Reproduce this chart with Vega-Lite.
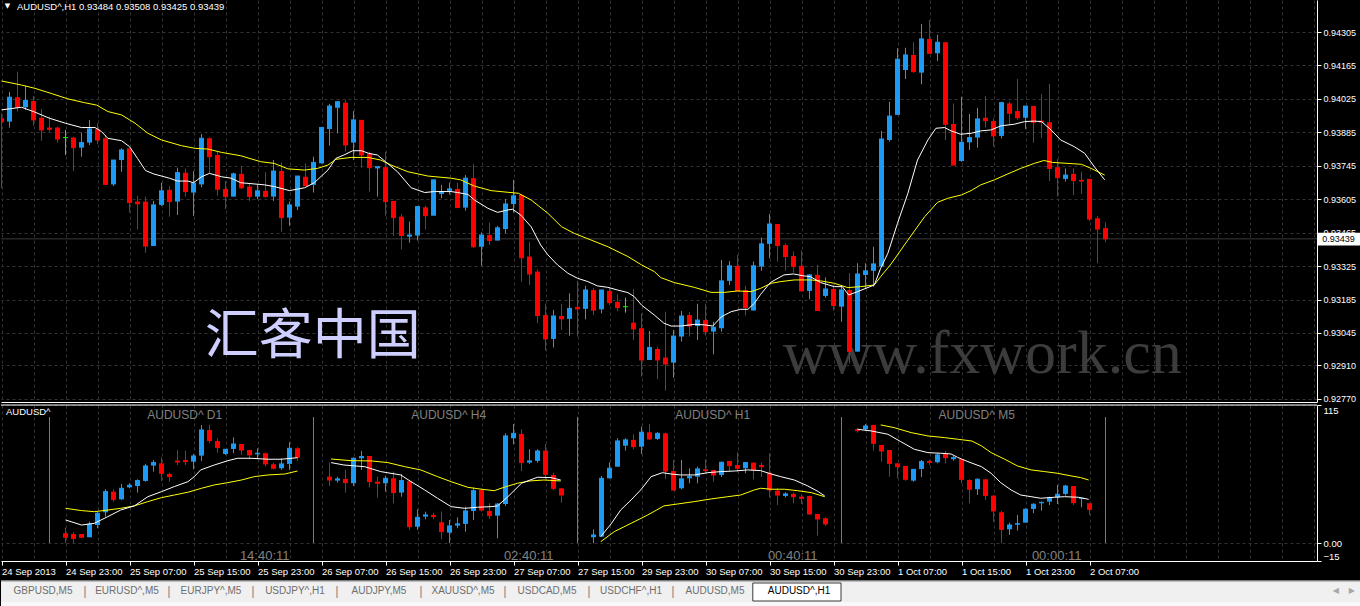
{
"$schema":"https://vega.github.io/schema/vega-lite/v6.json",
"background":"#000000",
"padding":0,
"spacing":3,
"bounds":"flush",
"center":false,
"config":{"view":{"stroke":null},"font":"Liberation Sans","scale":{"continuousPadding":0},"axis":{"labelFont":"Liberation Sans","labelOverlap":false,"labelSeparation":0},"text":{"font":"Liberation Sans"}},
"datasets":{
"one":[{}],
"main":[
{"i":0,"o":0.93944,"h":0.93965,"l":0.93651,"c":0.9393},{"i":1,"o":0.9393,"h":0.94055,"l":0.93905,"c":0.94032},{"i":2,"o":0.94032,"h":0.94139,"l":0.93972,"c":0.9399},{"i":3,"o":0.9399,"h":0.9408,"l":0.93979,"c":0.94018},{"i":4,"o":0.94016,"h":0.94037,"l":0.93912,"c":0.93937},{"i":5,"o":0.93946,"h":0.93983,"l":0.9385,"c":0.93895},{"i":6,"o":0.93905,"h":0.93951,"l":0.93888,"c":0.93898},{"i":7,"o":0.93905,"h":0.93909,"l":0.93842,"c":0.93857},{"i":8,"o":0.93863,"h":0.93895,"l":0.9379,"c":0.93863},{"i":9,"o":0.93863,"h":0.93867,"l":0.93723,"c":0.93821},
{"i":10,"o":0.93821,"h":0.93884,"l":0.93783,"c":0.93842},{"i":11,"o":0.93842,"h":0.93937,"l":0.93832,"c":0.93899},{"i":12,"o":0.93898,"h":0.93923,"l":0.93836,"c":0.93853},{"i":13,"o":0.9386,"h":0.93874,"l":0.93665,"c":0.93667},{"i":14,"o":0.93667,"h":0.93769,"l":0.9366,"c":0.93769},{"i":15,"o":0.93769,"h":0.93818,"l":0.9372,"c":0.93811},{"i":16,"o":0.93818,"h":0.93818,"l":0.93549,"c":0.93591},{"i":17,"o":0.93595,"h":0.93619,"l":0.93479,"c":0.93586},{"i":18,"o":0.93595,"h":0.93616,"l":0.93381,"c":0.93409},{"i":19,"o":0.93409,"h":0.93598,"l":0.93409,"c":0.93581},
{"i":20,"o":0.93581,"h":0.93674,"l":0.93577,"c":0.9364},{"i":21,"o":0.93644,"h":0.9366,"l":0.93532,"c":0.93595},{"i":22,"o":0.93595,"h":0.93737,"l":0.93539,"c":0.93716},{"i":23,"o":0.93716,"h":0.93734,"l":0.93616,"c":0.93637},{"i":24,"o":0.93633,"h":0.93723,"l":0.93535,"c":0.93672},{"i":25,"o":0.93667,"h":0.93878,"l":0.93655,"c":0.9386},{"i":26,"o":0.9386,"h":0.93864,"l":0.93713,"c":0.93783},{"i":27,"o":0.9379,"h":0.93804,"l":0.93619,"c":0.93647},{"i":28,"o":0.93648,"h":0.93681,"l":0.93564,"c":0.93616},{"i":29,"o":0.93616,"h":0.93716,"l":0.93616,"c":0.93711},
{"i":30,"o":0.93711,"h":0.93744,"l":0.93648,"c":0.93653},{"i":31,"o":0.93658,"h":0.93672,"l":0.93598,"c":0.93616},{"i":32,"o":0.93616,"h":0.93667,"l":0.93605,"c":0.9364},{"i":33,"o":0.9364,"h":0.93718,"l":0.93612,"c":0.93616},{"i":34,"o":0.93616,"h":0.93769,"l":0.93598,"c":0.93723},{"i":35,"o":0.93723,"h":0.93759,"l":0.93469,"c":0.93528},{"i":36,"o":0.93528,"h":0.93595,"l":0.93494,"c":0.93581},{"i":37,"o":0.93574,"h":0.93702,"l":0.9356,"c":0.93702},{"i":38,"o":0.93699,"h":0.93755,"l":0.93662,"c":0.93662},{"i":39,"o":0.93665,"h":0.93783,"l":0.93633,"c":0.93759},
{"i":40,"o":0.93755,"h":0.93905,"l":0.93755,"c":0.93905},{"i":41,"o":0.93899,"h":0.94004,"l":0.93829,"c":0.93995},{"i":42,"o":0.93988,"h":0.94016,"l":0.93881,"c":0.94013},{"i":43,"o":0.94009,"h":0.9402,"l":0.93804,"c":0.93832},{"i":44,"o":0.93842,"h":0.93974,"l":0.93769,"c":0.93937},{"i":45,"o":0.93937,"h":0.93937,"l":0.93737,"c":0.9379},{"i":46,"o":0.93797,"h":0.93804,"l":0.93637,"c":0.93737},{"i":47,"o":0.93734,"h":0.93741,"l":0.93616,"c":0.93741},{"i":48,"o":0.93739,"h":0.93804,"l":0.93536,"c":0.93595},{"i":49,"o":0.93598,"h":0.93598,"l":0.93451,"c":0.93528},
{"i":50,"o":0.93532,"h":0.93543,"l":0.93395,"c":0.93453},{"i":51,"o":0.93448,"h":0.93511,"l":0.93423,"c":0.93455},{"i":52,"o":0.93453,"h":0.93577,"l":0.93432,"c":0.93574},{"i":53,"o":0.93571,"h":0.93578,"l":0.93479,"c":0.93536},{"i":54,"o":0.93536,"h":0.93686,"l":0.93536,"c":0.93686},{"i":55,"o":0.93627,"h":0.93665,"l":0.93609,"c":0.93637},{"i":56,"o":0.9364,"h":0.93674,"l":0.93625,"c":0.93648},{"i":57,"o":0.93648,"h":0.93674,"l":0.9357,"c":0.9357},{"i":58,"o":0.9357,"h":0.93706,"l":0.93557,"c":0.93693},{"i":59,"o":0.93693,"h":0.93752,"l":0.93402,"c":0.93406},
{"i":60,"o":0.93406,"h":0.93466,"l":0.93327,"c":0.93455},{"i":61,"o":0.93455,"h":0.93507,"l":0.93413,"c":0.93432},{"i":62,"o":0.93432,"h":0.93493,"l":0.93432,"c":0.93485},{"i":63,"o":0.9348,"h":0.93606,"l":0.93462,"c":0.93585},{"i":64,"o":0.93585,"h":0.93686,"l":0.93549,"c":0.93619},{"i":65,"o":0.93623,"h":0.93627,"l":0.9326,"c":0.9336},{"i":66,"o":0.93365,"h":0.93427,"l":0.93246,"c":0.93292},{"i":67,"o":0.93302,"h":0.93312,"l":0.93086,"c":0.93118},{"i":68,"o":0.9312,"h":0.93167,"l":0.92971,"c":0.9302},{"i":69,"o":0.9302,"h":0.93141,"l":0.92984,"c":0.93116},
{"i":70,"o":0.93116,"h":0.93167,"l":0.93058,"c":0.93104},{"i":71,"o":0.93104,"h":0.93211,"l":0.93034,"c":0.93148},{"i":72,"o":0.93154,"h":0.93263,"l":0.9303,"c":0.93146},{"i":73,"o":0.93146,"h":0.93242,"l":0.93102,"c":0.93225},{"i":74,"o":0.93225,"h":0.93232,"l":0.9312,"c":0.93141},{"i":75,"o":0.93144,"h":0.93225,"l":0.93127,"c":0.93225},{"i":76,"o":0.93221,"h":0.93236,"l":0.93162,"c":0.93172},{"i":77,"o":0.93175,"h":0.93207,"l":0.93137,"c":0.93151},{"i":78,"o":0.93155,"h":0.93193,"l":0.9313,"c":0.93155},{"i":79,"o":0.93088,"h":0.93229,"l":0.93016,"c":0.93062},
{"i":80,"o":0.93065,"h":0.93127,"l":0.92862,"c":0.92932},{"i":81,"o":0.92932,"h":0.93053,"l":0.92932,"c":0.92984},{"i":82,"o":0.92978,"h":0.92988,"l":0.92852,"c":0.92932},{"i":83,"o":0.92942,"h":0.93134,"l":0.92804,"c":0.92915},{"i":84,"o":0.92921,"h":0.93058,"l":0.92858,"c":0.93032},{"i":85,"o":0.9303,"h":0.93137,"l":0.93009,"c":0.93116},{"i":86,"o":0.9312,"h":0.93132,"l":0.9303,"c":0.93074},{"i":87,"o":0.93074,"h":0.93167,"l":0.93016,"c":0.93099},{"i":88,"o":0.93099,"h":0.93167,"l":0.93034,"c":0.93051},{"i":89,"o":0.93051,"h":0.93092,"l":0.92956,"c":0.93069},
{"i":90,"o":0.93065,"h":0.93351,"l":0.93051,"c":0.93263},{"i":91,"o":0.93263,"h":0.93346,"l":0.93246,"c":0.93326},{"i":92,"o":0.93326,"h":0.93372,"l":0.93221,"c":0.93221},{"i":93,"o":0.93225,"h":0.93243,"l":0.93118,"c":0.93152},{"i":94,"o":0.93139,"h":0.93344,"l":0.93139,"c":0.93326},{"i":95,"o":0.93323,"h":0.93444,"l":0.93305,"c":0.93418},{"i":96,"o":0.93418,"h":0.93543,"l":0.93358,"c":0.93501},{"i":97,"o":0.93501,"h":0.93501,"l":0.93344,"c":0.93411},{"i":98,"o":0.93413,"h":0.9342,"l":0.93306,"c":0.93365},{"i":99,"o":0.93367,"h":0.93386,"l":0.93298,"c":0.93323},
{"i":100,"o":0.93326,"h":0.9339,"l":0.93221,"c":0.93221},{"i":101,"o":0.93221,"h":0.93292,"l":0.93186,"c":0.93288},{"i":102,"o":0.93288,"h":0.9333,"l":0.93139,"c":0.93139},{"i":103,"o":0.932,"h":0.93278,"l":0.93193,"c":0.93229},{"i":104,"o":0.93229,"h":0.93246,"l":0.93139,"c":0.9316},{"i":105,"o":0.93155,"h":0.93239,"l":0.93092,"c":0.93225},{"i":106,"o":0.93225,"h":0.93295,"l":0.92918,"c":0.92967},{"i":107,"o":0.92967,"h":0.93337,"l":0.92967,"c":0.93292},{"i":108,"o":0.93288,"h":0.93337,"l":0.93232,"c":0.93305},{"i":109,"o":0.93305,"h":0.93406,"l":0.93239,"c":0.93334},
{"i":110,"o":0.93323,"h":0.93891,"l":0.93323,"c":0.93857},{"i":111,"o":0.93853,"h":0.94013,"l":0.93846,"c":0.93953},{"i":112,"o":0.93958,"h":0.94237,"l":0.93958,"c":0.94191},{"i":113,"o":0.94146,"h":0.94239,"l":0.94108,"c":0.94209},{"i":114,"o":0.94209,"h":0.94262,"l":0.94135,"c":0.94139},{"i":115,"o":0.94135,"h":0.94339,"l":0.94086,"c":0.94276},{"i":116,"o":0.94276,"h":0.94355,"l":0.94213,"c":0.94216},{"i":117,"o":0.94216,"h":0.94293,"l":0.94184,"c":0.94262},{"i":118,"o":0.94262,"h":0.94262,"l":0.93853,"c":0.93919},{"i":119,"o":0.9392,"h":0.94006,"l":0.93746,"c":0.93748},
{"i":120,"o":0.93765,"h":0.94034,"l":0.93762,"c":0.93843},{"i":121,"o":0.93843,"h":0.93962,"l":0.93811,"c":0.93863},{"i":122,"o":0.93863,"h":0.93988,"l":0.93821,"c":0.93941},{"i":123,"o":0.93946,"h":0.94037,"l":0.93905,"c":0.93934},{"i":124,"o":0.93932,"h":0.93944,"l":0.93825,"c":0.9387},{"i":125,"o":0.9387,"h":0.94013,"l":0.9386,"c":0.94009},{"i":126,"o":0.94006,"h":0.94013,"l":0.93916,"c":0.93965},{"i":127,"o":0.93974,"h":0.94108,"l":0.93937,"c":0.93946},{"i":128,"o":0.93946,"h":0.93995,"l":0.93899,"c":0.93995},{"i":129,"o":0.93995,"h":0.93995,"l":0.93842,"c":0.93927},
{"i":130,"o":0.93934,"h":0.94045,"l":0.9386,"c":0.93928},{"i":131,"o":0.93927,"h":0.94087,"l":0.93681,"c":0.93734},{"i":132,"o":0.93739,"h":0.93773,"l":0.93616,"c":0.93695},{"i":133,"o":0.9369,"h":0.93734,"l":0.93679,"c":0.93706},{"i":134,"o":0.93711,"h":0.93734,"l":0.93623,"c":0.93683},{"i":135,"o":0.93686,"h":0.9372,"l":0.93627,"c":0.93681},{"i":136,"o":0.9369,"h":0.9369,"l":0.93514,"c":0.93522},{"i":137,"o":0.93525,"h":0.93535,"l":0.93337,"c":0.9348},{"i":138,"o":0.93484,"h":0.93508,"l":0.93425,"c":0.93439}
],
"mw":[
{"i":0,"p":0.93979},{"i":2.5,"p":0.9399},{"i":4,"p":0.93972},{"i":6,"p":0.93944},{"i":8,"p":0.93923},{"i":10,"p":0.93905},{"i":11.7,"p":0.93905},{"i":12.5,"p":0.93888},{"i":13.3,"p":0.9386},{"i":15,"p":0.9385},{"i":16,"p":0.93825},{"i":17,"p":0.93776},{"i":18,"p":0.93725},{"i":19,"p":0.93711},{"i":21,"p":0.93693},{"i":22,"p":0.93681},{"i":23.3,"p":0.93681},{"i":24,"p":0.93674},{"i":25,"p":0.93699},{"i":26,"p":0.93713},{"i":27.5,"p":0.93699},{"i":28.7,"p":0.93693},{"i":29.9,"p":0.93674},{"i":32.9,"p":0.93665},{"i":34.1,"p":0.93658},{"i":36,"p":0.93641},{"i":37.9,"p":0.93653},{"i":39.1,"p":0.93674},{"i":40.8,"p":0.93727},{"i":41.8,"p":0.93776},{"i":42.8,"p":0.9379},{"i":43.9,"p":0.93808},{"i":45,"p":0.93808},{"i":45.9,"p":0.93797},{"i":47,"p":0.9379},{"i":48,"p":0.93762},{"i":49.5,"p":0.9372},{"i":51.2,"p":0.93653},{"i":52.9,"p":0.93633},{"i":54.1,"p":0.93637},{"i":56.2,"p":0.93637},{"i":57,"p":0.93633},{"i":58.3,"p":0.93625},{"i":59.1,"p":0.93602},{"i":60.8,"p":0.93567},{"i":62,"p":0.9355},{"i":63.3,"p":0.9356},{"i":63.9,"p":0.93563},{"i":64.9,"p":0.93539},{"i":66.2,"p":0.9349},{"i":67.4,"p":0.93413},{"i":68.3,"p":0.93372},{"i":69.5,"p":0.9333},{"i":70.8,"p":0.93295},{"i":72,"p":0.93274},{"i":73.3,"p":0.9326},{"i":74.5,"p":0.93242},{"i":75.8,"p":0.93236},{"i":77,"p":0.93225},{"i":78.3,"p":0.93214},{"i":79.1,"p":0.93197},{"i":80,"p":0.93162},{"i":81.6,"p":0.9312},{"i":82.8,"p":0.93086},{"i":83.7,"p":0.93074},{"i":84.9,"p":0.93074},{"i":86.6,"p":0.93081},{"i":87.9,"p":0.93079},{"i":88.9,"p":0.93074},{"i":90,"p":0.93113},{"i":91.2,"p":0.93134},{"i":92.4,"p":0.93144},{"i":93.3,"p":0.93144},{"i":94.1,"p":0.93169},{"i":94.9,"p":0.93207},{"i":96.1,"p":0.93256},{"i":97.8,"p":0.93288},{"i":99,"p":0.93292},{"i":100.3,"p":0.93284},{"i":101.1,"p":0.93281},{"i":102.4,"p":0.93256},{"i":104.1,"p":0.93239},{"i":105.1,"p":0.93239},{"i":105.9,"p":0.93204},{"i":107,"p":0.93218},{"i":109.1,"p":0.93246},{"i":109.9,"p":0.93316},{"i":110.8,"p":0.93379},{"i":112,"p":0.93504},{"i":113.3,"p":0.9363},{"i":114.5,"p":0.93769},{"i":115.8,"p":0.93853},{"i":116.8,"p":0.93902},{"i":117.9,"p":0.93905},{"i":118.7,"p":0.93891},{"i":119.9,"p":0.93877},{"i":121.2,"p":0.93881},{"i":122.4,"p":0.93891},{"i":123.7,"p":0.93895},{"i":124.9,"p":0.93912},{"i":126.6,"p":0.93919},{"i":127.9,"p":0.9393},{"i":129.1,"p":0.93932},{"i":130,"p":0.9393},{"i":131.2,"p":0.93895},{"i":132.4,"p":0.93853},{"i":134.1,"p":0.93825},{"i":135.4,"p":0.93797},{"i":136.6,"p":0.93741},{"i":137.9,"p":0.93686}
],
"my":[
{"i":0,"p":0.941},{"i":2.5,"p":0.94083},{"i":4.2,"p":0.94069},{"i":6.2,"p":0.94048},{"i":8.3,"p":0.94025},{"i":10.4,"p":0.94009},{"i":11.9,"p":0.93999},{"i":13.3,"p":0.93972},{"i":15,"p":0.93958},{"i":16.7,"p":0.93923},{"i":18.3,"p":0.93881},{"i":20,"p":0.93853},{"i":22.5,"p":0.93829},{"i":24.2,"p":0.93818},{"i":25.8,"p":0.93815},{"i":27.5,"p":0.93801},{"i":29.9,"p":0.93787},{"i":32.4,"p":0.93762},{"i":34.1,"p":0.93755},{"i":35.8,"p":0.93732},{"i":37.9,"p":0.93727},{"i":39.5,"p":0.93734},{"i":40.8,"p":0.93748},{"i":41.8,"p":0.93772},{"i":43.7,"p":0.9378},{"i":45.8,"p":0.9378},{"i":47.4,"p":0.93769},{"i":48.7,"p":0.93748},{"i":50.8,"p":0.9372},{"i":53.3,"p":0.93702},{"i":56.2,"p":0.93693},{"i":57.4,"p":0.93686},{"i":59.1,"p":0.9366},{"i":61.2,"p":0.93641},{"i":63.3,"p":0.93634},{"i":64.6,"p":0.9363},{"i":66.2,"p":0.93602},{"i":68.3,"p":0.93546},{"i":70,"p":0.9349},{"i":71.6,"p":0.93462},{"i":73.7,"p":0.93434},{"i":75.8,"p":0.93406},{"i":78.3,"p":0.93365},{"i":80,"p":0.9333},{"i":81.6,"p":0.93302},{"i":82.4,"p":0.93277},{"i":84.1,"p":0.93256},{"i":86.6,"p":0.93236},{"i":88.7,"p":0.93215},{"i":90.4,"p":0.93215},{"i":92,"p":0.93221},{"i":93.7,"p":0.93218},{"i":94.9,"p":0.93232},{"i":96.2,"p":0.93253},{"i":97.4,"p":0.9326},{"i":99.1,"p":0.93267},{"i":101.2,"p":0.93267},{"i":102.4,"p":0.93263},{"i":104.1,"p":0.93253},{"i":105.8,"p":0.93235},{"i":107.4,"p":0.93239},{"i":109.1,"p":0.93246},{"i":109.9,"p":0.93281},{"i":111.2,"p":0.93334},{"i":113.3,"p":0.93434},{"i":115.4,"p":0.93532},{"i":117,"p":0.93592},{"i":118.3,"p":0.93609},{"i":120,"p":0.93623},{"i":121.2,"p":0.93641},{"i":122.4,"p":0.93665},{"i":124.1,"p":0.93686},{"i":125.8,"p":0.93711},{"i":127.4,"p":0.93734},{"i":129.1,"p":0.93755},{"i":130.3,"p":0.93767},{"i":131.4,"p":0.93759},{"i":133.3,"p":0.93755},{"i":135,"p":0.93751},{"i":136.2,"p":0.93734},{"i":137.9,"p":0.93706}
],
"sub":[
{"i":8,"o":8.1,"h":12.8,"l":-0.2,"c":4.8},{"i":9,"o":7.5,"h":9.2,"l":-0.2,"c":3.9},{"i":10,"o":7.5,"h":7.5,"l":3.9,"c":4.8},{"i":11,"o":4.8,"h":17.8,"l":4.8,"c":15.6},{"i":12,"o":15.0,"h":26.1,"l":12.3,"c":24.8},{"i":13,"o":25.6,"h":44.8,"l":22.0,"c":42.8},{"i":14,"o":42.8,"h":44.8,"l":34.5,"c":36.4},{"i":15,"o":36.4,"h":49.2,"l":35.9,"c":45.6},{"i":16,"o":46.4,"h":49.8,"l":45.6,"c":48.1},{"i":17,"o":47.5,"h":53.1,"l":42.0,"c":52.0},{"i":18,"o":51.7,"h":65.9,"l":51.1,"c":64.2},{"i":19,"o":64.5,"h":69.2,"l":59.5,"c":67.0},{"i":20,"o":66.4,"h":71.4,"l":51.7,"c":58.1},{"i":21,"o":57.5,"h":58.6,"l":51.1,"c":55.3},{"i":22,"o":68.6,"h":77.5,"l":65.0,"c":67.5},{"i":23,"o":69.2,"h":77.0,"l":65.0,"c":67.8},{"i":24,"o":67.8,"h":74.2,"l":61.4,"c":72.5},{"i":25,"o":72.8,"h":98.4,"l":68.4,"c":94.2},{"i":26,"o":94.2,"h":98.4,"l":83.1,"c":85.3},{"i":27,"o":85.0,"h":87.3,"l":75.3,"c":79.5},{"i":28,"o":74.2,"h":78.1,"l":73.4,"c":78.1},{"i":29,"o":78.4,"h":88.1,"l":74.8,"c":82.5},{"i":30,"o":82.5,"h":82.5,"l":73.4,"c":77.5},{"i":31,"o":77.5,"h":77.5,"l":69.8,"c":73.4},{"i":32,"o":73.9,"h":78.9,"l":69.8,"c":74.8},{"i":33,"o":74.8,"h":75.3,"l":63.6,"c":65.9},{"i":34,"o":65.6,"h":67.0,"l":61.4,"c":62.3},{"i":35,"o":62.3,"h":70.6,"l":60.9,"c":65.9},{"i":36,"o":65.9,"h":83.9,"l":60.9,"c":78.9},{"i":37,"o":78.9,"h":79.8,"l":68.4,"c":71.4},
{"i":41,"o":55.3,"h":67.0,"l":47.5,"c":52.5},{"i":42,"o":52.0,"h":55.3,"l":50.3,"c":53.4},{"i":43,"o":53.4,"h":60.9,"l":42.0,"c":50.3},{"i":44,"o":49.8,"h":71.4,"l":47.5,"c":70.6},{"i":45,"o":70.6,"h":76.7,"l":60.9,"c":72.0},{"i":46,"o":72.5,"h":72.5,"l":46.4,"c":51.1},{"i":47,"o":51.1,"h":55.3,"l":37.8,"c":49.8},{"i":48,"o":49.8,"h":56.1,"l":42.8,"c":53.9},{"i":49,"o":53.9,"h":59.5,"l":33.1,"c":42.0},{"i":50,"o":42.0,"h":57.5,"l":38.6,"c":52.0},{"i":51,"o":51.7,"h":52.5,"l":10.9,"c":13.6},{"i":52,"o":13.6,"h":28.1,"l":10.9,"c":21.4},{"i":53,"o":22.0,"h":26.1,"l":19.8,"c":23.4},{"i":54,"o":23.4,"h":25.3,"l":19.8,"c":22.0},{"i":55,"o":17.3,"h":26.1,"l":3.1,"c":9.5},{"i":56,"o":8.6,"h":19.2,"l":-0.2,"c":14.2},{"i":57,"o":14.5,"h":21.4,"l":12.3,"c":15.9},{"i":58,"o":15.9,"h":30.3,"l":9.5,"c":26.7},{"i":59,"o":26.7,"h":46.4,"l":19.2,"c":43.6},{"i":60,"o":44.2,"h":45.6,"l":26.1,"c":27.5},{"i":61,"o":26.7,"h":33.1,"l":20.0,"c":22.8},{"i":62,"o":22.8,"h":33.1,"l":3.9,"c":32.5},{"i":63,"o":32.5,"h":91.4,"l":30.9,"c":89.2},{"i":64,"o":87.3,"h":99.2,"l":82.3,"c":91.4},{"i":65,"o":90.9,"h":94.8,"l":60.0,"c":67.0},{"i":66,"o":67.0,"h":78.1,"l":65.9,"c":68.4},{"i":67,"o":68.4,"h":78.1,"l":67.0,"c":76.7},{"i":68,"o":77.0,"h":82.5,"l":53.1,"c":57.3},{"i":69,"o":56.7,"h":58.6,"l":44.2,"c":45.6},{"i":70,"o":45.6,"h":45.6,"l":33.6,"c":40.0},
{"i":74,"o":4.8,"h":11.4,"l":-0.2,"c":6.7},{"i":75,"o":5.3,"h":55.9,"l":5.3,"c":53.9},{"i":76,"o":53.9,"h":67.3,"l":53.9,"c":62.3},{"i":77,"o":63.6,"h":87.3,"l":63.6,"c":85.0},{"i":78,"o":81.1,"h":87.3,"l":77.0,"c":85.9},{"i":79,"o":85.9,"h":90.6,"l":78.1,"c":80.3},{"i":80,"o":80.3,"h":97.0,"l":74.2,"c":92.3},{"i":81,"o":92.3,"h":99.2,"l":85.9,"c":86.7},{"i":82,"o":86.7,"h":92.3,"l":85.9,"c":91.4},{"i":83,"o":91.4,"h":92.0,"l":53.4,"c":60.0},{"i":84,"o":60.0,"h":69.2,"l":43.6,"c":44.2},{"i":85,"o":45.6,"h":69.2,"l":44.8,"c":53.4},{"i":86,"o":53.9,"h":62.3,"l":49.8,"c":55.3},{"i":87,"o":55.3,"h":63.6,"l":49.8,"c":61.7},{"i":88,"o":61.4,"h":69.8,"l":58.6,"c":60.3},{"i":89,"o":60.9,"h":60.9,"l":51.1,"c":56.7},{"i":90,"o":56.7,"h":67.8,"l":55.0,"c":67.3},{"i":91,"o":68.4,"h":68.4,"l":59.5,"c":64.5},{"i":92,"o":65.0,"h":75.6,"l":58.9,"c":62.3},{"i":93,"o":62.3,"h":67.0,"l":58.1,"c":67.0},{"i":94,"o":67.0,"h":67.0,"l":53.1,"c":60.9},{"i":95,"o":65.0,"h":67.0,"l":55.0,"c":63.6},{"i":96,"o":58.6,"h":74.8,"l":38.1,"c":44.2},{"i":97,"o":43.6,"h":45.6,"l":31.7,"c":40.0},{"i":98,"o":39.2,"h":42.3,"l":38.1,"c":40.9},{"i":99,"o":40.9,"h":42.0,"l":33.1,"c":38.6},{"i":100,"o":38.6,"h":40.6,"l":32.5,"c":37.3},{"i":101,"o":39.2,"h":39.2,"l":23.4,"c":24.2},{"i":102,"o":24.2,"h":24.2,"l":6.1,"c":20.0},{"i":103,"o":20.6,"h":21.4,"l":14.2,"c":15.9},
{"i":107,"o":94.8,"h":95.6,"l":92.0,"c":93.6},{"i":108,"o":94.8,"h":99.2,"l":93.6,"c":97.5},{"i":109,"o":98.4,"h":98.4,"l":77.0,"c":83.1},{"i":110,"o":81.7,"h":81.7,"l":67.8,"c":76.7},{"i":111,"o":77.5,"h":77.5,"l":55.3,"c":66.4},{"i":112,"o":66.4,"h":66.4,"l":53.9,"c":63.6},{"i":113,"o":64.2,"h":64.2,"l":52.0,"c":53.1},{"i":114,"o":52.0,"h":61.4,"l":51.1,"c":61.4},{"i":115,"o":61.7,"h":69.2,"l":55.0,"c":67.8},{"i":116,"o":68.4,"h":69.2,"l":65.0,"c":67.3},{"i":117,"o":67.3,"h":74.8,"l":66.4,"c":73.4},{"i":118,"o":74.8,"h":76.7,"l":66.4,"c":71.1},{"i":119,"o":69.8,"h":72.5,"l":68.6,"c":71.1},{"i":120,"o":70.0,"h":70.0,"l":49.8,"c":53.1},{"i":121,"o":52.5,"h":53.1,"l":33.1,"c":44.8},{"i":122,"o":44.8,"h":53.9,"l":40.0,"c":53.1},{"i":123,"o":53.1,"h":53.1,"l":35.9,"c":39.5},{"i":124,"o":39.5,"h":39.5,"l":17.8,"c":26.7},{"i":125,"o":25.6,"h":26.7,"l":-0.2,"c":11.4},{"i":126,"o":11.4,"h":17.0,"l":6.7,"c":15.0},{"i":127,"o":15.3,"h":23.4,"l":10.3,"c":16.1},{"i":128,"o":17.0,"h":28.9,"l":17.0,"c":28.1},{"i":129,"o":28.4,"h":33.1,"l":24.8,"c":32.3},{"i":130,"o":33.1,"h":34.5,"l":27.0,"c":33.9},{"i":131,"o":34.5,"h":38.6,"l":31.7,"c":37.8},{"i":132,"o":38.1,"h":48.4,"l":32.5,"c":40.6},{"i":133,"o":40.9,"h":48.4,"l":39.5,"c":47.5},{"i":134,"o":47.5,"h":47.5,"l":31.7,"c":33.6},{"i":135,"o":36.7,"h":37.3,"l":29.8,"c":37.3},{"i":136,"o":33.1,"h":33.1,"l":23.4,"c":28.1}
],
"sw":[
{"g":"D1","i":8,"v":19.2},{"g":"D1","i":10,"v":15.0},{"g":"D1","i":11.6,"v":16.4},{"g":"D1","i":13.3,"v":22.0},{"g":"D1","i":14.9,"v":27.5},{"g":"D1","i":16.6,"v":30.9},{"g":"D1","i":18.3,"v":38.6},{"g":"D1","i":20,"v":42.8},{"g":"D1","i":21.6,"v":47.0},{"g":"D1","i":23.3,"v":51.1},{"g":"D1","i":24.1,"v":55.3},{"g":"D1","i":24.9,"v":60.9},{"g":"D1","i":26.6,"v":65.0},{"g":"D1","i":28.3,"v":68.6},{"g":"D1","i":29.5,"v":70.6},{"g":"D1","i":31.2,"v":70.6},{"g":"D1","i":33.3,"v":69.8},{"g":"D1","i":35,"v":69.8},{"g":"D1","i":37,"v":71.1},
{"g":"H4","i":41.2,"v":67.0},{"g":"H4","i":42.8,"v":65.0},{"g":"H4","i":45.4,"v":63.6},{"g":"H4","i":47.4,"v":59.5},{"g":"H4","i":49.9,"v":56.7},{"g":"H4","i":51.2,"v":51.1},{"g":"H4","i":52.9,"v":44.2},{"g":"H4","i":54.5,"v":37.3},{"g":"H4","i":56.2,"v":30.3},{"g":"H4","i":57.9,"v":28.9},{"g":"H4","i":59.5,"v":29.8},{"g":"H4","i":61.2,"v":30.3},{"g":"H4","i":62,"v":30.9},{"g":"H4","i":63.3,"v":38.6},{"g":"H4","i":65,"v":49.8},{"g":"H4","i":67,"v":54.8},{"g":"H4","i":68.7,"v":54.5},{"g":"H4","i":69.9,"v":52.5},
{"g":"H1","i":74.9,"v":5.3},{"g":"H1","i":76.2,"v":15.9},{"g":"H1","i":77.4,"v":27.5},{"g":"H1","i":78.7,"v":35.9},{"g":"H1","i":79.9,"v":44.2},{"g":"H1","i":81.2,"v":55.3},{"g":"H1","i":82.6,"v":58.6},{"g":"H1","i":83.7,"v":57.5},{"g":"H1","i":84.9,"v":56.7},{"g":"H1","i":86.6,"v":56.7},{"g":"H1","i":88.3,"v":58.6},{"g":"H1","i":89.9,"v":59.5},{"g":"H1","i":91.6,"v":60.0},{"g":"H1","i":93.3,"v":60.9},{"g":"H1","i":94.9,"v":60.3},{"g":"H1","i":96.2,"v":57.5},{"g":"H1","i":97.4,"v":55.3},{"g":"H1","i":99.1,"v":52.5},{"g":"H1","i":100.8,"v":47.5},{"g":"H1","i":102.1,"v":42.8},{"g":"H1","i":102.9,"v":39.2},
{"g":"M5","i":107,"v":94.8},{"g":"M5","i":108.7,"v":93.4},{"g":"M5","i":110.8,"v":90.6},{"g":"M5","i":112.4,"v":84.5},{"g":"M5","i":114.1,"v":78.1},{"g":"M5","i":115.8,"v":75.3},{"g":"M5","i":117.4,"v":74.8},{"g":"M5","i":118.7,"v":74.2},{"g":"M5","i":119.5,"v":71.4},{"g":"M5","i":120.8,"v":67.8},{"g":"M5","i":122.5,"v":63.6},{"g":"M5","i":123.7,"v":58.1},{"g":"M5","i":124.9,"v":50.3},{"g":"M5","i":126.2,"v":44.2},{"g":"M5","i":127.4,"v":40.0},{"g":"M5","i":128.7,"v":38.6},{"g":"M5","i":129.9,"v":37.3},{"g":"M5","i":131.6,"v":38.1},{"g":"M5","i":132.9,"v":38.6},{"g":"M5","i":134.6,"v":38.1},{"g":"M5","i":135.9,"v":36.4}
],
"sy":[
{"g":"D1","i":8,"v":28.9},{"g":"D1","i":10,"v":27.0},{"g":"D1","i":11.6,"v":26.1},{"g":"D1","i":13.3,"v":27.5},{"g":"D1","i":14.9,"v":28.9},{"g":"D1","i":16.6,"v":30.9},{"g":"D1","i":18.3,"v":34.5},{"g":"D1","i":20,"v":37.8},{"g":"D1","i":21.6,"v":40.0},{"g":"D1","i":23.3,"v":42.3},{"g":"D1","i":25,"v":45.6},{"g":"D1","i":26.6,"v":48.4},{"g":"D1","i":28.3,"v":50.3},{"g":"D1","i":30,"v":52.5},{"g":"D1","i":31.6,"v":55.3},{"g":"D1","i":33.3,"v":56.7},{"g":"D1","i":35.4,"v":57.5},{"g":"D1","i":37,"v":60.0},
{"g":"H4","i":41.2,"v":70.0},{"g":"H4","i":43.7,"v":68.6},{"g":"H4","i":46.2,"v":68.4},{"g":"H4","i":48.3,"v":67.0},{"g":"H4","i":50.4,"v":63.6},{"g":"H4","i":52.4,"v":60.9},{"g":"H4","i":54.5,"v":55.3},{"g":"H4","i":56.2,"v":51.1},{"g":"H4","i":58.3,"v":46.4},{"g":"H4","i":60,"v":44.8},{"g":"H4","i":61.6,"v":43.6},{"g":"H4","i":62.8,"v":46.4},{"g":"H4","i":64.5,"v":49.8},{"g":"H4","i":66,"v":51.7},{"g":"H4","i":67.8,"v":52.5},{"g":"H4","i":69.9,"v":51.7},
{"g":"H1","i":74.9,"v":1.1},{"g":"H1","i":76.6,"v":9.5},{"g":"H1","i":78.7,"v":16.4},{"g":"H1","i":80.8,"v":23.4},{"g":"H1","i":82.8,"v":30.9},{"g":"H1","i":84.5,"v":32.5},{"g":"H1","i":86.6,"v":34.5},{"g":"H1","i":88.7,"v":36.7},{"g":"H1","i":90.8,"v":38.6},{"g":"H1","i":92.4,"v":40.0},{"g":"H1","i":94.1,"v":44.2},{"g":"H1","i":94.9,"v":45.6},{"g":"H1","i":96.2,"v":44.8},{"g":"H1","i":97.9,"v":44.8},{"g":"H1","i":99.5,"v":43.6},{"g":"H1","i":101.2,"v":42.0},{"g":"H1","i":102.9,"v":38.6},
{"g":"M5","i":109.9,"v":98.4},{"g":"M5","i":111.6,"v":96.1},{"g":"M5","i":113.7,"v":92.0},{"g":"M5","i":115.8,"v":89.2},{"g":"M5","i":117.9,"v":87.8},{"g":"M5","i":119.6,"v":86.4},{"g":"M5","i":121.3,"v":85.0},{"g":"M5","i":122.5,"v":80.9},{"g":"M5","i":123.7,"v":75.3},{"g":"M5","i":125.4,"v":69.8},{"g":"M5","i":127,"v":64.2},{"g":"M5","i":128.7,"v":60.9},{"g":"M5","i":130.4,"v":59.5},{"g":"M5","i":132,"v":58.1},{"g":"M5","i":133.7,"v":55.9},{"g":"M5","i":134.9,"v":54.5},{"g":"M5","i":135.9,"v":52.5}
],
"seps":[{"i":6},{"i":39},{"i":72},{"i":105},{"i":138}],
"titles":[{"i":22.9,"t":"AUDUSD^ D1"},{"i":55.9,"t":"AUDUSD^ H4"},{"i":88.9,"t":"AUDUSD^ H1"},{"i":121.9,"t":"AUDUSD^ M5"}],
"timers":[{"i":32.9,"t":"14:40:11"},{"i":65.9,"t":"02:40:11"},{"i":98.9,"t":"00:40:11"},{"i":131.9,"t":"00:00:11"}],
"tabs":[{"n":0,"t":"GBPUSD,M5"},{"n":1,"t":"EURUSD^,M5"},{"n":2,"t":"EURJPY^,M5"},{"n":3,"t":"USDJPY^,H1"},{"n":4,"t":"AUDJPY,M5"},{"n":5,"t":"XAUUSD^,M5"},{"n":6,"t":"USDCAD,M5"},{"n":7,"t":"USDCHF^,H1"},{"n":8,"t":"AUDUSD,M5"},{"n":9,"t":"AUDUSD^,H1"}]
},
"vconcat":[
{
"width":1316,"height":402,
"layer":[
{"data":{"name":"main"},"mark":{"type":"rule","clip":true,"strokeWidth":1,"opacity":0},
 "encoding":{"x":{"field":"i","type":"quantitative","scale":{"domain":[-0.0625,164.4375],"nice":false,"zero":false,"padding":0},"axis":{"orient":"bottom","values":[0,4,8,12,16,20,24,28,32,36,40,44,48,52,56,60,64,68,72,76,80,84,88,92,96,100,104,108,112,116,120,124,128,132,136,140,144,148,152,156,160,164],"tickCount":200,"labels":false,"ticks":false,"domain":true,"domainColor":"#FFFFFF","grid":true,"gridColor":"#333333","gridDash":[3,3],"title":null}},
  "y":{"field":"l","type":"quantitative","scale":{"domain":[0.92756,0.94439],"nice":false,"zero":false,"padding":0},"axis":{"orient":"right","values":[0.9277,0.9291,0.93045,0.93185,0.93325,0.93465,0.93605,0.93745,0.93885,0.94025,0.94165,0.94305],"tickCount":100,"format":".5f","labelColor":"#FFFFFF","labelFontSize":9,"labelPadding":2,"labelOverlap":false,"labelBound":false,"tickColor":"#FFFFFF","tickSize":4,"domainColor":"#FFFFFF","grid":true,"gridColor":"#333333","gridDash":[3,3],"title":null}},
  "y2":{"field":"h"}}},
{"data":{"name":"one"},"mark":{"type":"text","font":"Noto Sans CJK SC","fontSize":54,"color":"#CFCFFF","align":"center","baseline":"middle"},
 "encoding":{"x":{"datum":38.9},"y":{"datum":0.93024},"text":{"value":"汇客中国"}}},
{"data":{"name":"one"},"mark":{"type":"text","font":"Liberation Serif","fontSize":62,"color":"#3C3C3C","align":"center","baseline":"alphabetic"},
 "encoding":{"x":{"datum":122.6},"y":{"datum":0.92877},"text":{"value":"www.fxwork.cn"}}},
{"data":{"name":"one"},"mark":{"type":"rule","color":"#3A3A3A","strokeWidth":1},"encoding":{"y":{"datum":0.93439}}},
{"data":{"name":"main"},"mark":{"type":"rule","clip":true,"strokeWidth":1},
 "encoding":{"x":{"field":"i","type":"quantitative"},"y":{"field":"l","type":"quantitative"},"y2":{"field":"h"},
  "color":{"condition":[{"test":"datum.c > datum.o","value":"#1E9AF5"},{"test":"datum.c < datum.o","value":"#FF0000"}],"value":"#00FF00"}}},
{"data":{"name":"main"},"mark":{"type":"bar","size":5,"clip":true},
 "encoding":{"x":{"field":"i","type":"quantitative"},"y":{"field":"o","type":"quantitative"},"y2":{"field":"c"},
  "color":{"condition":[{"test":"datum.c > datum.o","value":"#1E9AF5"},{"test":"datum.c < datum.o","value":"#FF0000"}],"value":"#00FF00"}}},
{"data":{"name":"main"},"mark":{"type":"tick","orient":"horizontal","size":5,"thickness":1,"opacity":1,"clip":true},
 "encoding":{"x":{"field":"i","type":"quantitative"},"y":{"field":"c","type":"quantitative"},
  "color":{"condition":[{"test":"datum.c > datum.o","value":"#1E9AF5"},{"test":"datum.c < datum.o","value":"#FF0000"}],"value":"#00FF00"}}},
{"data":{"name":"my"},"mark":{"type":"line","color":"#FFFF00","strokeWidth":1,"clip":true},
 "encoding":{"x":{"field":"i","type":"quantitative"},"y":{"field":"p","type":"quantitative"}}},
{"data":{"name":"mw"},"mark":{"type":"line","color":"#FFFFFF","strokeWidth":1,"clip":true},
 "encoding":{"x":{"field":"i","type":"quantitative"},"y":{"field":"p","type":"quantitative"}}},
{"data":{"name":"one"},"mark":{"type":"text","font":"Liberation Sans","fontSize":9.5,"color":"#FFFFFF","align":"left","baseline":"middle"},
 "encoding":{"x":{"datum":1.94},"y":{"datum":0.9441},"text":{"value":"AUDUSD^,H1  0.93484 0.93508 0.93425 0.93439"}}},
{"data":{"name":"one"},"mark":{"type":"text","font":"DejaVu Sans","fontSize":7,"color":"#FFFFFF","align":"center","baseline":"middle"},
 "encoding":{"x":{"datum":0.75},"y":{"datum":0.94412},"text":{"value":"▼"}}},
{"data":{"name":"one"},"mark":{"type":"rect","color":"#FFFFFF"},
 "encoding":{"x":{"datum":164.56},"x2":{"datum":169.9},"y":{"datum":0.93465},"y2":{"datum":0.93411}}},
{"data":{"name":"one"},"mark":{"type":"text","font":"Liberation Sans","fontSize":9,"color":"#000000","align":"left","baseline":"middle"},
 "encoding":{"x":{"datum":165.1},"y":{"datum":0.93439},"text":{"value":"0.93439"}}}
]
},
{
"width":1316,"height":156,
"layer":[
{"data":{"name":"sub"},"mark":{"type":"rule","strokeWidth":1,"opacity":0},
 "encoding":{"x":{"field":"i","type":"quantitative","scale":{"domain":[-0.0625,164.4375],"nice":false,"zero":false,"padding":0},
   "axis":{"orient":"bottom","values":[0,4,8,12,16,20,24,28,32,36,40,44,48,52,56,60,64,68,72,76,80,84,88,92,96,100,104,108,112,116,120,124,128,132,136,140,144,148,152,156,160,164],"tickCount":200,
   "labelExpr":"datum.value % 8 == 0 && datum.value <= 136 ? ['24 Sep 2013','24 Sep 23:00','25 Sep 07:00','25 Sep 15:00','25 Sep 23:00','26 Sep 07:00','26 Sep 15:00','26 Sep 23:00','27 Sep 07:00','27 Sep 15:00','29 Sep 23:00','30 Sep 07:00','30 Sep 15:00','30 Sep 23:00','1 Oct 07:00','1 Oct 15:00','1 Oct 23:00','2 Oct 07:00'][datum.value / 8] : ''",
   "labelAlign":"left","labelBaseline":"top","labelColor":"#FFFFFF","labelFontSize":9.5,"labelPadding":1,"labelOverlap":false,"labelBound":false,"labelFlush":false,
   "tickColor":"#FFFFFF","tickSize":4,"tickOpacity":{"condition":{"test":"datum.value % 8 != 0 || datum.value > 136","value":0},"value":1},
   "domainColor":"#FFFFFF","grid":true,"gridColor":"#333333","gridDash":[3,3],"title":null}},
  "y":{"field":"l","type":"quantitative","scale":{"domain":[-15,115],"nice":false,"zero":false,"padding":0},
   "axis":{"orient":"right","values":[115,0,-15],"tickCount":20,"labelExpr":"datum.value == 0 ? '0.00' : datum.label","labelFlush":true,"labelColor":"#FFFFFF","labelFontSize":9.5,"labelPadding":2,"labelOverlap":false,"tickColor":"#FFFFFF","tickSize":4,"domainColor":"#FFFFFF","grid":true,"gridColor":"#333333","gridDash":[3,3],"title":null}},
  "y2":{"field":"h"}}},
{"data":{"name":"one"},"mark":{"type":"rule","color":"#FFFFFF","strokeWidth":1},"encoding":{"y":{"datum":115}}},
{"data":{"name":"seps"},"mark":{"type":"rule","color":"#1E90FF","strokeWidth":1},
 "encoding":{"x":{"field":"i","type":"quantitative"},"y":{"datum":0},"y2":{"datum":105}}},
{"data":{"name":"sub"},"mark":{"type":"rule","strokeWidth":1},
 "encoding":{"x":{"field":"i","type":"quantitative"},"y":{"field":"l","type":"quantitative"},"y2":{"field":"h"},
  "color":{"condition":[{"test":"datum.c > datum.o","value":"#1E9AF5"},{"test":"datum.c < datum.o","value":"#FF0000"}],"value":"#00FF00"}}},
{"data":{"name":"sub"},"mark":{"type":"bar","size":5},
 "encoding":{"x":{"field":"i","type":"quantitative"},"y":{"field":"o","type":"quantitative"},"y2":{"field":"c"},
  "color":{"condition":[{"test":"datum.c > datum.o","value":"#1E9AF5"},{"test":"datum.c < datum.o","value":"#FF0000"}],"value":"#00FF00"}}},
{"data":{"name":"sub"},"mark":{"type":"tick","orient":"horizontal","size":5,"thickness":1,"opacity":1},
 "encoding":{"x":{"field":"i","type":"quantitative"},"y":{"field":"c","type":"quantitative"},
  "color":{"condition":[{"test":"datum.c > datum.o","value":"#1E9AF5"},{"test":"datum.c < datum.o","value":"#FF0000"}],"value":"#00FF00"}}},
{"data":{"name":"sy"},"mark":{"type":"line","color":"#FFFF00","strokeWidth":1},
 "encoding":{"x":{"field":"i","type":"quantitative"},"y":{"field":"v","type":"quantitative"},"detail":{"field":"g"}}},
{"data":{"name":"sw"},"mark":{"type":"line","color":"#FFFFFF","strokeWidth":1},
 "encoding":{"x":{"field":"i","type":"quantitative"},"y":{"field":"v","type":"quantitative"},"detail":{"field":"g"}}},
{"data":{"name":"titles"},"mark":{"type":"text","font":"Liberation Sans","fontSize":12,"color":"#808080","align":"center","baseline":"middle"},
 "encoding":{"x":{"field":"i","type":"quantitative"},"y":{"datum":106.7},"text":{"field":"t"}}},
{"data":{"name":"timers"},"mark":{"type":"text","font":"Liberation Sans","fontSize":13,"color":"#808080","align":"center","baseline":"middle"},
 "encoding":{"x":{"field":"i","type":"quantitative"},"y":{"datum":-10.8},"text":{"field":"t"}}},
{"data":{"name":"one"},"mark":{"type":"text","font":"Liberation Sans","fontSize":9.5,"color":"#FFFFFF","align":"left","baseline":"middle"},
 "encoding":{"x":{"datum":0.56},"y":{"datum":109.2},"text":{"value":"AUDUSD^"}}}
]
},
{
"width":1360,"height":42,
"layer":[
{"data":{"name":"one"},"mark":{"type":"rect","fill":"#F0F0F0"},
 "encoding":{"x":{"datum":-0.5,"type":"quantitative","scale":{"domain":[-0.5,15.690476],"nice":false,"zero":false,"padding":0},"axis":null},
  "x2":{"datum":15.690476},
  "y":{"datum":0,"type":"quantitative","scale":{"domain":[0,42],"nice":false,"zero":false,"padding":0},"axis":null},
  "y2":{"datum":24.5}}},
{"data":{"name":"one"},"mark":{"type":"rect","fill":"#F8F8F8"},
 "encoding":{"x":{"datum":-0.5,"axis":null},"x2":{"datum":15.690476},"y":{"datum":0,"axis":null},"y2":{"datum":4}}},
{"data":{"name":"one"},"mark":{"type":"rule","color":"#FFFFFF","strokeWidth":1},
 "encoding":{"y":{"datum":25,"axis":null}}},
{"data":{"name":"one"},"mark":{"type":"rect","fill":"#FFFFFF","stroke":"#3A3A3A","strokeWidth":1},
 "encoding":{"x":{"datum":8.45,"axis":null},"x2":{"datum":9.5},"y":{"datum":23,"axis":null},"y2":{"datum":5}}},
{"data":{"name":"tabs"},"mark":{"type":"text","font":"Liberation Sans","fontSize":10,"align":"center","baseline":"middle"},
 "encoding":{"x":{"field":"n","type":"quantitative","axis":null},"y":{"datum":15,"axis":null},"text":{"field":"t"},
  "color":{"condition":{"test":"datum.n == 9","value":"#000000"},"value":"#6E6E6E"}}},
{"data":{"name":"tabs"},"transform":[{"filter":"datum.n < 8"}],"mark":{"type":"text","text":"|","dx":42,"font":"Liberation Sans","fontSize":13,"color":"#8C8C8C","align":"center","baseline":"middle"},
 "encoding":{"x":{"field":"n","type":"quantitative","axis":null},"y":{"datum":15,"axis":null}}},
{"data":{"name":"one"},"mark":{"type":"text","font":"DejaVu Sans","fontSize":8,"color":"#A8A8A8","align":"center","baseline":"middle"},
 "encoding":{"x":{"datum":15.39,"axis":null},"y":{"datum":15,"axis":null},"text":{"value":"◀"}}},
{"data":{"name":"one"},"mark":{"type":"text","font":"DejaVu Sans","fontSize":8,"color":"#A8A8A8","align":"center","baseline":"middle"},
 "encoding":{"x":{"datum":15.58,"axis":null},"y":{"datum":15,"axis":null},"text":{"value":"▶"}}}
]
}
]
}
